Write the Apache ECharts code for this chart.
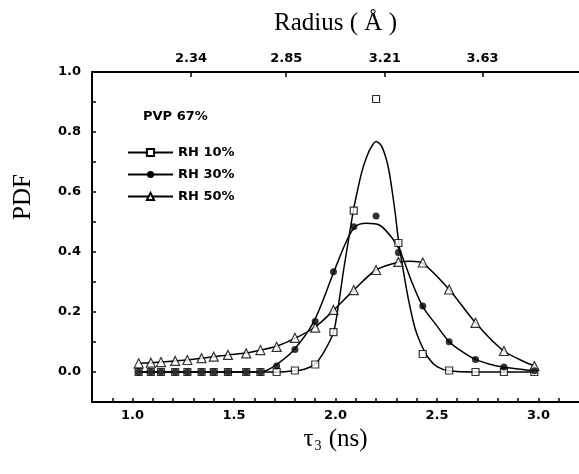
<!DOCTYPE html>
<html>
<head>
<meta charset="utf-8">
<script src="https://cdn.jsdelivr.net/npm/echarts@6/dist/echarts.min.js"></script>
<style>
html,body{margin:0;padding:0;background:#fff;}
#c{width:579px;height:474px;}
</style>
</head>
<body>
<div id="c"></div>
<script>
// ---- data ----
const tau = [1.03,1.09,1.14,1.21,1.27,1.34,1.40,1.47,1.56,1.63,1.71,1.80,1.90,1.99,2.09,2.20,2.31,2.43,2.56,2.69,2.83,2.98];
const rh10Pts = [0,0,0,0,0,0,0,0,0,0,0,0.005,0.025,0.133,0.538,0.91,0.43,0.06,0.005,0,0,0];
const rh30Pts = [0,0,0,0,0,0,0,0,0,0,0.02,0.075,0.168,0.334,0.484,0.52,0.398,0.22,0.101,0.042,0.017,0.004];
const rh50Pts = [0.029,0.031,0.033,0.037,0.04,0.046,0.051,0.057,0.062,0.073,0.084,0.114,0.148,0.207,0.273,0.34,0.367,0.365,0.275,0.164,0.07,0.02];

const rh10Fit = [[1.03,0],[1.71,0],[1.80,0.004],[1.85,0.01],[1.90,0.027],[1.944,0.068],[1.99,0.132],[2.016,0.23],[2.04,0.34],[2.064,0.44],[2.088,0.538],[2.11,0.61],[2.13,0.668],[2.15,0.71],[2.17,0.742],[2.20,0.768],[2.225,0.755],[2.248,0.715],[2.265,0.665],[2.28,0.6],[2.296,0.52],[2.312,0.43],[2.336,0.33],[2.36,0.24],[2.39,0.15],[2.42,0.095],[2.46,0.045],[2.50,0.018],[2.56,0.004],[2.69,0],[2.98,0]];
const rh30Fit = [[1.03,0],[1.63,0],[1.66,0.005],[1.71,0.025],[1.79,0.07],[1.893,0.168],[1.992,0.334],[2.05,0.43],[2.096,0.484],[2.152,0.496],[2.216,0.49],[2.28,0.446],[2.32,0.40],[2.376,0.30],[2.43,0.218],[2.496,0.157],[2.56,0.101],[2.624,0.068],[2.69,0.042],[2.76,0.026],[2.83,0.016],[2.98,0.004]];
const rh50Fit = [[1.03,0.029],[1.09,0.031],[1.14,0.033],[1.21,0.037],[1.27,0.04],[1.34,0.046],[1.40,0.051],[1.47,0.057],[1.56,0.063],[1.63,0.073],[1.71,0.086],[1.80,0.112],[1.90,0.15],[1.99,0.205],[2.09,0.273],[2.20,0.34],[2.31,0.366],[2.37,0.369],[2.43,0.362],[2.56,0.275],[2.69,0.164],[2.83,0.07],[2.98,0.02]];

const seriesNames = ['RH 10%','RH 30%','RH 50%'];
const xLabelVals = [1.0,1.5,2.0,2.5,3.0];
const xTickVals = [0.9,1.0,1.1,1.2,1.3,1.4,1.5,1.6,1.7,1.8,1.9,2.0,2.1,2.2,2.3,2.4,2.5,2.6,2.7,2.8,2.9,3.0,3.1];
const yLabelVals = [0.0,0.2,0.4,0.6,0.8,1.0];
const yTickVals = [0.0,0.1,0.2,0.3,0.4,0.5,0.6,0.7,0.8,0.9];
const radiusTickPos = [1.288,1.757,2.243,2.725];
const radiusLabels = ['2.34','2.85','3.21','3.63'];
const panelLabel = 'PVP 67%';

// ---- chart ----
const pair = (xs, ys) => xs.map((x, i) => [x, ys[i]]);
const tickFont = {fontFamily:'DejaVu Sans', fontWeight:'bold', fontSize:13, color:'#000'};
const titleFont = {fontFamily:'Liberation Serif', fontSize:25, color:'#000'};
const black = '#000';

const chart = echarts.init(document.getElementById('c'), null, {renderer:'canvas'});
const lineSeries = (name, data, symbol) => ({
  type:'line', name, data,
  smooth:0.3, showSymbol:false, symbol, symbolSize:8,
  itemStyle:{color:black}, lineStyle:{color:black, width:1.5}, z:2
});
const markSeries = (name, vals, symbol, size, filled) => ({
  type:'scatter', name, data: pair(tau, vals),
  symbol, symbolSize:size,
  itemStyle: filled ? {color:black} : {color:'#fff', borderColor:black, borderWidth:1.2},
  z:3
});

chart.setOption({
  animation:false,
  backgroundColor:'#fff',
  grid:{left:92, top:72, width:500, height:330},
  xAxis:[
    {type:'value', position:'bottom', min:0.8, max:3.2,
     axisLine:{onZero:false, lineStyle:{color:black, width:2}},
     axisTick:{inside:true, length:4, customValues:xTickVals, lineStyle:{color:black, width:1.5}},
     axisLabel:{customValues:xLabelVals, formatter:v=>Number(v).toFixed(1), margin:7, ...tickFont},
     splitLine:{show:false},
     name:'{t|τ}{s|3}{t| (ns)}', nameLocation:'middle', nameGap:25,
     nameTextStyle:{verticalAlign:'middle', rich:{
        t:{...titleFont, lineHeight:28, verticalAlign:'middle'},
        s:{fontFamily:'Liberation Serif', fontSize:14, color:black, lineHeight:14, verticalAlign:'bottom', padding:[0,1,0,1]}
     }}
    },
    {type:'value', position:'top', min:0.8, max:3.2,
     axisLine:{onZero:false, lineStyle:{color:black, width:2}},
     axisTick:{inside:true, length:5, customValues:radiusTickPos, lineStyle:{color:black, width:1.5}},
     axisLabel:{customValues:radiusTickPos, margin:7, ...tickFont,
       formatter:v=>{const i = radiusTickPos.findIndex(p=>Math.abs(p-v)<1e-6); return i>=0 ? radiusLabels[i] : '';}},
     splitLine:{show:false},
     name:'Radius ( Å )', nameLocation:'middle', nameGap:49,
     nameTextStyle:{...titleFont, verticalAlign:'middle'}
    }
  ],
  yAxis:{type:'value', position:'left', min:-0.1, max:1.0,
     axisLine:{onZero:false, lineStyle:{color:black, width:2}},
     axisTick:{inside:true, length:4, customValues:yTickVals, lineStyle:{color:black, width:1.5}},
     axisLabel:{customValues:yLabelVals, formatter:v=>Number(v).toFixed(1), margin:11, ...tickFont},
     splitLine:{show:false}
  },
  legend:{
    data:seriesNames, orient:'vertical', left:122, top:141,
    itemWidth:45, itemHeight:9, itemGap:9,
    textStyle:{fontFamily:'DejaVu Sans', fontWeight:'bold', fontSize:13, color:black, lineHeight:12},
    selectedMode:false
  },
  graphic:[
    {type:'text', left:143, top:110, style:{text:panelLabel, fontFamily:'DejaVu Sans', fontWeight:'bold', fontSize:13, fill:black}},
    {type:'text', x:23, y:197, rotation:Math.PI/2, style:{text:'PDF', fontFamily:'Liberation Serif', fontSize:25, fill:black, align:'center', verticalAlign:'middle'}}
  ],
  series:[
    lineSeries(seriesNames[0], rh10Fit, 'emptyRect'),
    lineSeries(seriesNames[1], rh30Fit, 'circle'),
    lineSeries(seriesNames[2], rh50Fit, 'emptyTriangle'),
    markSeries('RH 10% data', rh10Pts, 'rect', 7, false),
    markSeries('RH 50% data', rh50Pts, 'triangle', 9, false),
    markSeries('RH 30% data', rh30Pts, 'circle', 7, true)
  ]
});
</script>
</body>
</html>
